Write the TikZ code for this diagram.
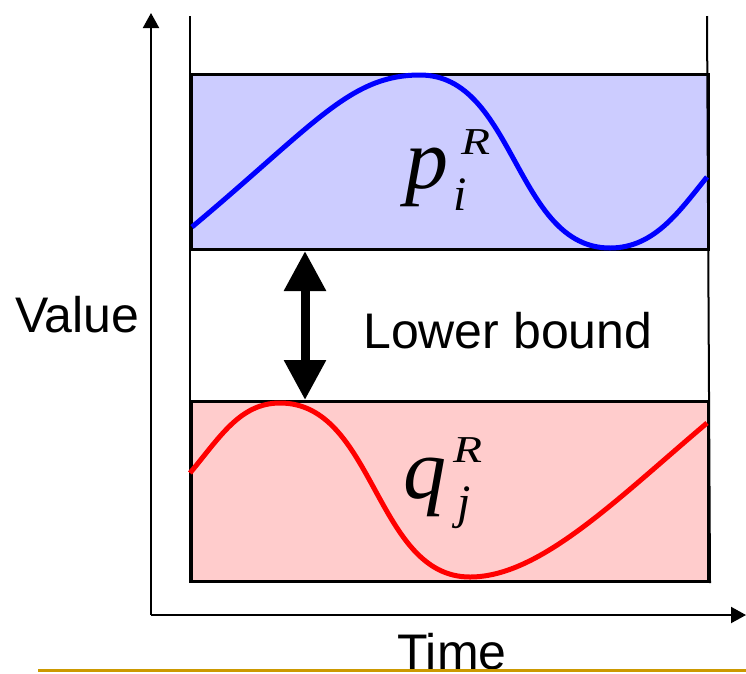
\documentclass[tikz,border=0pt]{standalone}
\usepackage{fontspec}
\setmainfont{Liberation Serif}
\setsansfont{Liberation Sans}
\usetikzlibrary{arrows.meta}
\definecolor{bandblue}{RGB}{204,204,255}
\definecolor{bandred}{RGB}{255,204,204}
\definecolor{rulegold}{RGB}{204,153,0}

\begin{document}
\begin{tikzpicture}[
    x=1pt, y=-1pt,
    band/.style={rectangle, draw, line width=3pt, minimum width=517pt, anchor=north west, inner sep=0pt},
    guide/.style={line width=2pt},
    curve/.style={line width=5pt},
    axis/.style={line width=2pt, -{Triangle[width=16pt,length=15pt]}},
    bound/.style={line width=9pt, {Triangle[width=40pt,length=40pt]}-{Triangle[width=40pt,length=40pt]}},
    lbl/.style={font=\sffamily\fontsize{50}{58}\selectfont, inner sep=0pt, anchor=base west},
    sym/.style={font=\itshape\fontsize{86}{90}\selectfont, inner sep=0pt, anchor=base},
    idx/.style={font=\itshape\fontsize{48}{52}\selectfont, inner sep=0pt, anchor=base},
    supr/.style={font=\itshape\fontsize{38}{42}\selectfont, inner sep=0pt, anchor=base}
]
\useasboundingbox (0,0) rectangle (746,673);

\coordinate (origin) at (151,615);
\coordinate (ytip) at (151,13);
\coordinate (xtip) at (746,615);
\coordinate (lt) at (190,16);
\coordinate (rt) at (707,16);
\coordinate (ax) at (305,0);

\node[band, fill=bandblue, minimum height=175pt] (pbox) at (190,73) {};
\node[band, fill=bandred, minimum height=180pt] (qbox) at (190,400) {};
\draw[guide] (lt) -- (qbox.south west);
\draw[guide] (rt) -- (qbox.south east);

\draw[curve, blue] (192,227) .. controls (315,124) and (350,75) .. (420,75)
    .. controls (515,75) and (515,248) .. (610,248)
    .. controls (655,248) and (680,210) .. (707,177);
\draw[curve, red] (190,473) .. controls (220,437) and (240,403) .. (280,403)
    .. controls (375,403) and (375,577) .. (470,577)
    .. controls (540,577) and (617,499) .. (707,423);

\node[sym] (pSym) at (427,188) {p};
\node[supr] (pSup) at (476,154) {\scalebox{1.25}[1]{R}};
\node[idx] (pSub) at (460,210) {i};
\node[sym] (qSym) at (425,498) {q};
\node[supr] (qSup) at (468,462) {\scalebox{1.25}[1]{R}};
\node[idx] (qSub) at (464,518) {j};

\draw[bound] (pbox.south -| ax) -- (qbox.north -| ax);

\node[lbl] (lower) at (363,348) {Lower bound};
\node[lbl] (value) at (15,332) {Value};
\node[lbl] (time) at (397,669) {Time};

\draw[axis] (origin) -- (ytip);
\draw[axis] (origin) -- (xtip);
\draw[line width=3pt, rulegold] (38,670) -- (746,670);
\end{tikzpicture}
\end{document}
